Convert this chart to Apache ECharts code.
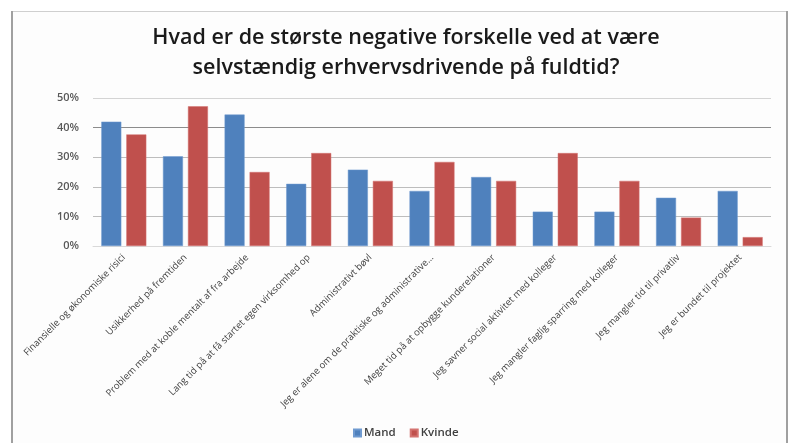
<!DOCTYPE html>
<html>
<head>
<meta charset="utf-8">
<script src="https://cdn.jsdelivr.net/npm/echarts@6/dist/echarts.min.js"></script>
<style>
  html, body { margin: 0; padding: 0; background: #fff; }
  #chart { width: 789px; height: 443px; }
</style>
</head>
<body>
<div id="chart"></div>
<script>
const categories = [
    "Finansielle og økonomiske risici",
    "Usikkerhed på fremtiden",
    "Problem med at koble mentalt af fra arbejde",
    "Lang tid på at få startet egen virksomhed op",
    "Administrativt bøvl",
    "Jeg er alene om de praktiske og administrative…",
    "Meget tid på at opbygge kunderelationer",
    "Jeg savner social aktivitet med kolleger",
    "Jeg mangler faglig sparring med kolleger",
    "Jeg mangler tid til privatliv",
    "Jeg er bundet til projektet"
];
const mand = [42, 30.3, 44.4, 21, 25.8, 18.6, 23.3, 11.6, 11.6, 16.3, 18.6];
const kvinde = [37.7, 47.2, 25, 31.4, 22, 28.4, 22, 31.4, 22, 9.6, 3];

const chart = echarts.init(document.getElementById("chart"));

chart.setOption({
    backgroundColor: "#ffffff",
    animation: false,
    graphic: [
        {
            type: "rect",
            shape: { x: 12, y: 11, width: 775, height: 440 },
            style: { fill: "#fdfdfd", stroke: null },
            z: -10
        },
        { type: "line", shape: { x1: 12, y1: 11.5, x2: 788, y2: 11.5 }, style: { stroke: "#cfcfcf", lineWidth: 1 } },
        { type: "line", shape: { x1: 12, y1: 11, x2: 12, y2: 443 }, style: { stroke: "#a0a0a0", lineWidth: 2 } },
        { type: "line", shape: { x1: 787, y1: 11, x2: 787, y2: 443 }, style: { stroke: "#a0a0a0", lineWidth: 2 } }
    ],
    title: {
        text: "Hvad er de største negative forskelle ved at være\nselvstændig erhvervsdrivende på fuldtid?",
        left: 401,
        textAlign: "center",
        top: 18,
        textStyle: {
            fontFamily: "Open Sans",
            fontWeight: 600,
            fontSize: 21.5,
            lineHeight: 30,
            color: "#1a1a1a"
        }
    },
    legend: {
        top: 422,
        left: 348,
        itemWidth: 7,
        itemHeight: 7,
        itemGap: 14,
        icon: "rect",
        textStyle: { fontFamily: "Open Sans", fontWeight: 600, fontSize: 11.5, color: "#404040", padding: [0, 0, 0, -2] },
        data: ["Mand", "Kvinde"]
    },
    grid: { left: 93, right: 18, top: 98, bottom: 197 },
    xAxis: {
        type: "category",
        data: categories,
        axisLine: { lineStyle: { color: "#d9d9d9" } },
        axisTick: { show: false },
        axisLabel: {
            interval: 0,
            rotate: 45,
            fontFamily: "Open Sans",
            fontSize: 9.5,
            color: "#404040",
            margin: 10
        }
    },
    yAxis: {
        type: "value",
        min: 0,
        max: 50,
        interval: 10,
        axisLine: { show: false },
        axisTick: { show: false },
        axisLabel: {
            formatter: "{value}%",
            fontFamily: "Open Sans",
            fontWeight: 600,
            fontSize: 11,
            color: "#595959",
            margin: 14
        },
        splitLine: {
            lineStyle: {
                color: ["#dddddd", "#bdbdbd", "#bdbdbd", "#bdbdbd", "#8c8c8c", "#d4d4d4"]
            }
        }
    },
    series: [
        {
            name: "Mand",
            type: "bar",
            data: mand,
            barGap: "25%",
            barCategoryGap: "27%",
            itemStyle: { color: "#4f81bd", borderColor: "#6f9ad0", borderWidth: 0.5 }
        },
        {
            name: "Kvinde",
            type: "bar",
            data: kvinde,
            itemStyle: { color: "#c0504d", borderColor: "#d47370", borderWidth: 0.5 }
        }
    ]
});
</script>
</body>
</html>
